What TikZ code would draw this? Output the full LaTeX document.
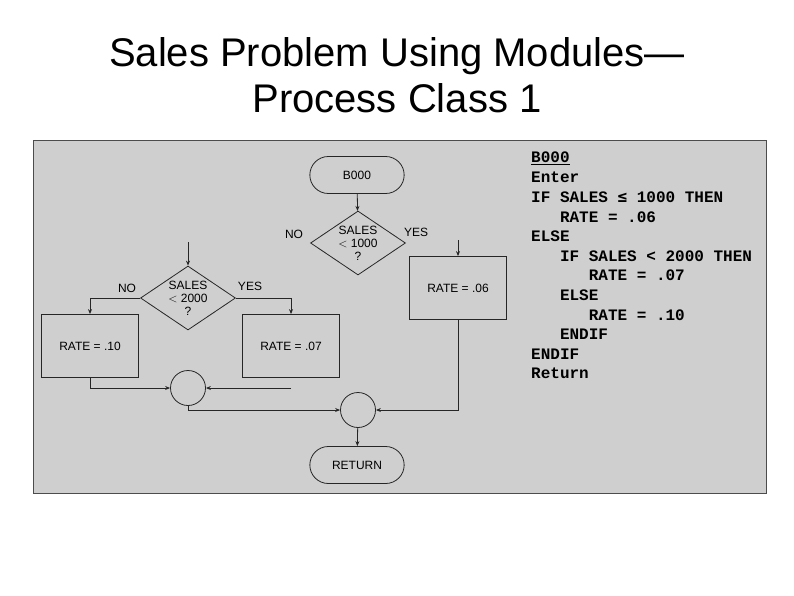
\documentclass[tikz,border=0pt]{standalone}
\usepackage{fontspec}
\setmainfont{Liberation Sans}
\newfontfamily\codefont{Liberation Mono}
\usetikzlibrary{shapes.geometric,arrows.meta}
\begin{document}
\begin{tikzpicture}[x=1pt,y=-1pt,
  line/.style={draw=black!85,line width=0.8pt},
  arr/.style={line,-{Stealth[length=5pt,width=4pt]}},
  term/.style={line,rounded rectangle,minimum width=101pt,minimum height=37pt,font=\fontsize{12}{14}\selectfont},
  proc/.style={line,rectangle,minimum width=97pt,minimum height=63pt,font=\fontsize{12}{14}\selectfont},
  dec/.style={line,diamond,aspect=1.5,minimum width=95pt,minimum height=64pt,inner sep=0pt,font=\fontsize{12}{13}\selectfont,align=center},
  conn/.style={line,circle,minimum size=35pt,inner sep=0pt},
  lab/.style={font=\fontsize{12}{14}\selectfont},
  code/.style={anchor=west,font=\codefont\bfseries\fontsize{16}{18}\selectfont,inner sep=0pt}]
\useasboundingbox (0,0) rectangle (794,595);
\fill[white] (0,0) rectangle (794,595);
\node[font=\fontsize{40}{46}\selectfont,align=center] (title) at (397,75) {Sales Problem Using Modules---\\Process Class 1};
\filldraw[fill=black!19,draw=black!70,line width=0.8pt] (33,140) rectangle (766,493);
\usetikzlibrary{shapes.misc}
\node[term] (b0) at (357,175) {B000};
\node[dec] (d1) at (358,243) {SALES\\$<$ 1000\\?};
\node[lab] (no1) at (294,234) {NO};
\node[lab] (yes1) at (416,232) {YES};
\node[proc] (r06) at (458,288) {RATE = .06};
\coordinate (in06) at (458,240);
\coordinate (in2) at (188,242);
\node[dec] (d2) at (188,298) {SALES\\$<$ 2000\\?};
\node[lab] (no2) at (127,288) {NO};
\node[lab] (yes2) at (250,286) {YES};
\node[proc] (r10) at (90,346) {RATE = .10};
\node[proc] (r07) at (291,346) {RATE = .07};
\node[conn] (c1) at (188,388) {};
\node[conn] (c2) at (358,410) {};
\node[term] (ret) at (357,465) {RETURN};
\coordinate (free07) at (291,388);
\draw[arr] (b0) -- (d1);
\draw[arr] (in06) -- (r06);
\draw[arr] (in2) -- (d2);
\draw[arr] (d2.west) -| (r10.north);
\draw[arr] (d2.east) -| (r07.north);
\draw[arr] (r10.south) |- (c1.west);
\draw[arr] (free07) -- (c1.east);
\draw[arr] (c1.south) |- (c2.west);
\draw[arr] (r06.south) |- (c2.east);
\draw[arr] (c2) -- (ret);
\node[code] (l1) at (531,158) {\underline{B000}};
\node[code] (l2) at (531,177.6) {Enter};
\node[code] (l3) at (531,197.2) {IF SALES \fontspec{DejaVu Sans Mono}≤\codefont\bfseries{} 1000 THEN};
\node[code] (l4) at (531,216.8) {\ \ \ RATE = .06};
\node[code] (l5) at (531,236.4) {ELSE};
\node[code] (l6) at (531,256) {\ \ \ IF SALES < 2000 THEN};
\node[code] (l7) at (531,275.6) {\ \ \ \ \ \ RATE = .07};
\node[code] (l8) at (531,295.2) {\ \ \ ELSE};
\node[code] (l9) at (531,314.8) {\ \ \ \ \ \ RATE = .10};
\node[code] (l10) at (531,334.4) {\ \ \ ENDIF};
\node[code] (l11) at (531,354) {ENDIF};
\node[code] (l12) at (531,373.6) {Return};
\end{tikzpicture}
\end{document}
